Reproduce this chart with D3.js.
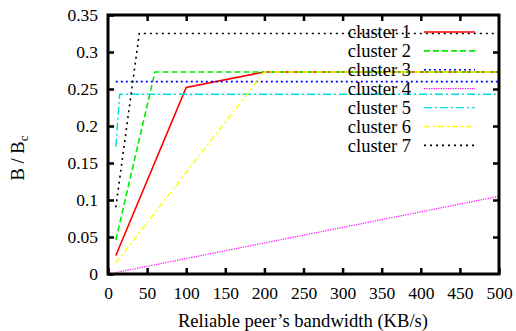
<!DOCTYPE html>
<html><head><meta charset="utf-8">
<script src="https://cdn.jsdelivr.net/npm/d3@7"></script>
<style>body{margin:0;background:#fff}svg{display:block}</style>
</head><body><svg id="c" width="516" height="331" font-family="'Liberation Serif','Times New Roman',serif"></svg>
<script>
const seriesNames = ["cluster 1","cluster 2","cluster 3","cluster 4","cluster 5","cluster 6","cluster 7"];
const cluster1 = [[10,0.025],[100,0.252],[200,0.273],[500,0.273]];
const cluster2 = [[10,0.046],[60,0.273],[500,0.273]];
const cluster3 = [[10,0.26],[500,0.26]];
const cluster4 = [[10,0.002],[500,0.105]];
const cluster5 = [[10,0.172],[15,0.243],[500,0.243]];
const cluster6 = [[10,0.015],[200,0.273],[500,0.273]];
const cluster7 = [[10,0.09],[40,0.325],[500,0.325]];
const xTicks = [0,50,100,150,200,250,300,350,400,450,500];
const yTicks = [0,0.05,0.1,0.15,0.2,0.25,0.3,0.35];

const FONT = "'Liberation Serif','Times New Roman',serif";
const seriesData = [cluster1,cluster2,cluster3,cluster4,cluster5,cluster6,cluster7];
const styles = [
  {c:"#ff0000",d:null,w:1.6},
  {c:"#00ee00",d:"6,3",w:1.6},
  {c:"#0000ff",d:"2,3",w:1.6},
  {c:"#ff00ff",d:"1.2,1.2",w:1.2},
  {c:"#00dddd",d:"8,3,2,3",w:1.4},
  {c:"#ffff00",d:"6,3,2,3",w:1.4},
  {c:"#000000",d:"2,4",w:1.6}
];
const L=108,R=499,T=15,B=274;
const svg=d3.select("#c");
const x=d3.scaleLinear().domain([0,500]).range([L,R]);
const y=d3.scaleLinear().domain([0,0.35]).range([B,T]);
const fmt=d=>String(+d.toFixed(2));

const line=d3.line().x(d=>x(d[0])).y(d=>y(d[1]));
seriesData.forEach((s,i)=>{
  svg.append("path").attr("d",line(s)).attr("fill","none")
    .attr("stroke",styles[i].c).attr("stroke-width",styles[i].w)
    .attr("stroke-dasharray",styles[i].d);
});

const ax=svg.append("g").attr("transform",`translate(0,${B})`)
  .call(d3.axisBottom(x).tickValues(xTicks).tickSize(-6).tickPadding(9).tickFormat(d=>d));
const ay=svg.append("g").attr("transform",`translate(${L},0)`)
  .call(d3.axisLeft(y).tickValues(yTicks).tickSize(-6).tickPadding(10).tickFormat(fmt));
const at=svg.append("g").attr("transform",`translate(0,${T})`)
  .call(d3.axisTop(x).tickValues(xTicks.slice(1,-1)).tickSize(-6).tickFormat(""));
const ar=svg.append("g").attr("transform",`translate(${R},0)`)
  .call(d3.axisRight(y).tickValues(yTicks.slice(1,-1)).tickSize(-6).tickFormat(""));
[ax,ay,at,ar].forEach(g=>{
  g.attr("font-family",FONT).attr("font-size",17);
  g.select(".domain").remove();
  g.selectAll(".tick line").attr("stroke","#000").attr("stroke-width",2.5);
  g.selectAll(".tick text").style("font-family",FONT).style("font-size","17.5px").attr("fill","#000");
});
ax.selectAll(".tick text").attr("dy","0.9em");
svg.append("rect").attr("x",L).attr("y",T).attr("width",R-L).attr("height",B-T)
  .attr("fill","none").attr("stroke","#000").attr("stroke-width",3);

seriesNames.forEach((n,i)=>{
  const yy=32+i*18.9;
  svg.append("text").attr("x",411).attr("y",yy).attr("dy","0.35em")
    .attr("text-anchor","end").style("font-family",FONT).style("font-size","18.5px").text(n);
  svg.append("line").attr("x1",424).attr("x2",475).attr("y1",yy).attr("y2",yy)
    .attr("stroke",styles[i].c).attr("stroke-width",styles[i].w)
    .attr("stroke-dasharray",styles[i].d);
});

svg.append("text").attr("x",303).attr("y",326.5)
  .attr("text-anchor","middle").style("font-family",FONT).style("font-size","18.6px").text("Reliable peer’s bandwidth (KB/s)");
const yt=svg.append("text").attr("transform","translate(24,158) rotate(-90)")
  .attr("text-anchor","middle").style("font-family",FONT).style("font-size","18.5px");
yt.append("tspan").text("B / B");
yt.append("tspan").attr("dy","4").style("font-size","13px").text("c");
</script></body></html>
